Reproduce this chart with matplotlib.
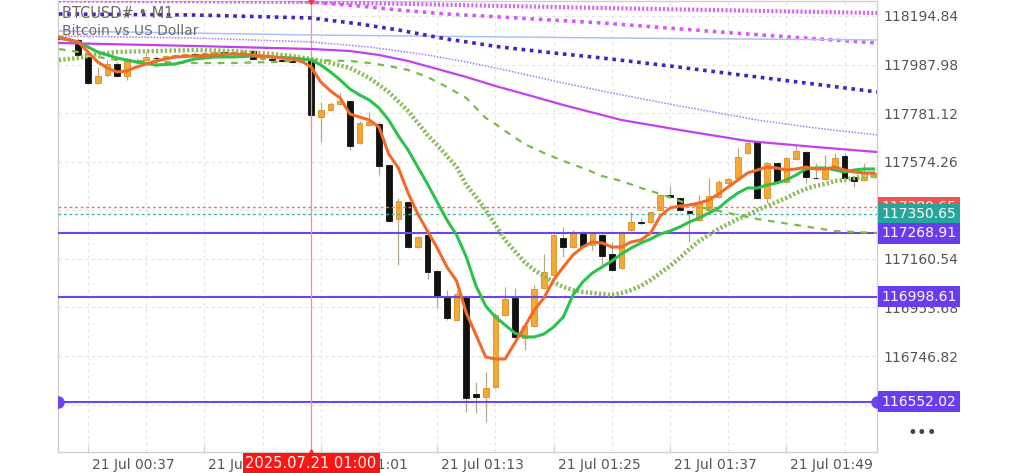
import matplotlib
matplotlib.use("Agg")
import matplotlib.pyplot as plt
import matplotlib.transforms as mtrans

# ---------------- data ----------------
candle_times = list(range(34, 119))  # minutes after 00:00 (21 Jul 2025, M1 candles)
opens = [118105.5, 118097.0, 118092.7, 118020.3, 117909.6, 117943.6, 117990.5, 117939.4, 118003.3, 118007.5,
         118018.0, 118016.0, 118020.3, 118028.8, 118033.1, 118028.8, 118037.3, 118041.6, 118033.1, 118043.7,
         118045.8, 118011.8, 118011.8, 118007.5, 118003.3, 117999.0, 118007.5, 117764.8, 117794.6, 117820.2,
         117832.9, 117654.1, 117730.7, 117735.0, 117560.4, 117330.5, 117402.9, 117211.3, 117262.4, 117109.1,
         116998.4, 116900.4, 116998.4, 116585.3, 116572.6, 116615.2, 116921.7, 116994.1, 116823.8, 116874.9,
         117036.7, 117092.0, 117249.6, 117211.3, 117275.1, 117219.8, 117262.4, 117181.5, 117121.9, 117283.7,
         117317.7, 117317.7, 117368.8, 117430.6, 117419.9, 117364.6, 117326.2, 117368.8, 117424.2, 117483.8,
         117505.1, 117611.5, 117658.4, 117419.9, 117568.9, 117488.0, 117586.0, 117615.8, 117507.0, 117500.8,
         117551.9, 117598.8, 117509.3, 117496.6, 117509.3]
highs = [118109.7, 118101.2, 118101.2, 118024.6, 117977.7, 118007.5, 117999.0, 118016.0, 118016.0, 118041.6,
         118024.6, 118028.8, 118033.1, 118037.3, 118041.6, 118041.6, 118045.8, 118045.8, 118045.8, 118050.0,
         118050.0, 118020.3, 118016.0, 118011.8, 118007.5, 118007.5, 118037.3, 117828.7, 117828.7, 117867.0,
         117837.2, 117747.8, 117786.1, 117743.5, 117564.7, 117419.9, 117407.1, 117258.1, 117287.9, 117113.3,
         117028.2, 117028.2, 117002.7, 116636.4, 116679.0, 116930.2, 117041.0, 117036.7, 116879.2, 117049.5,
         117181.5, 117266.6, 117296.4, 117283.7, 117279.4, 117275.1, 117270.9, 117232.6, 117279.4, 117360.3,
         117334.8, 117364.6, 117437.0, 117471.0, 117424.2, 117368.8, 117432.7, 117505.1, 117496.6, 117505.1,
         117632.8, 117658.4, 117662.6, 117573.2, 117573.2, 117594.5, 117641.3, 117620.0, 117568.9, 117603.0,
         117611.5, 117611.5, 117513.6, 117568.9, 117535.0]
lows = [118092.7, 118084.2, 118020.3, 117905.0, 117905.0, 117935.1, 117935.1, 117922.4, 117990.5, 118003.3,
        117977.7, 118011.8, 118016.0, 118024.6, 118020.3, 118024.6, 118028.8, 118033.1, 118028.8, 118037.3,
        118007.5, 118007.5, 118003.3, 117999.0, 117994.7, 117994.7, 117743.5, 117658.4, 117790.3, 117816.0,
        117624.3, 117649.8, 117726.5, 117517.8, 117317.7, 117134.6, 117207.0, 117207.0, 117075.0, 116951.5,
        116900.4, 116896.2, 116508.7, 116504.4, 116466.1, 116610.9, 116917.5, 116823.8, 116772.7, 116870.6,
        117032.4, 117087.8, 117168.7, 117207.0, 117211.3, 117198.5, 117130.4, 117109.1, 117117.6, 117279.4,
        117304.9, 117313.5, 117364.6, 117419.9, 117364.6, 117232.6, 117322.0, 117364.6, 117419.9, 117479.5,
        117500.8, 117607.3, 117415.6, 117398.6, 117483.8, 117483.8, 117581.7, 117483.8, 117500.8, 117496.6,
        117547.7, 117500.8, 117466.8, 117492.3, 117505.1]
closes = [118096.9, 118093.0, 118028.8, 117909.6, 117939.4, 117990.5, 117939.4, 118007.5, 117999.0, 118020.3,
          118014.0, 118024.6, 118028.8, 118033.1, 118028.8, 118037.3, 118041.6, 118037.3, 118041.6, 118045.8,
          118011.8, 118016.0, 118007.5, 118005.4, 117999.0, 118003.3, 117773.3, 117794.6, 117820.2, 117832.9,
          117641.3, 117739.3, 117743.5, 117556.2, 117322.0, 117407.1, 117211.3, 117253.9, 117104.8, 116998.4,
          116909.0, 117011.1, 116568.3, 116572.6, 116610.9, 116921.7, 116989.9, 116828.1, 116874.9, 117032.4,
          117104.8, 117262.4, 117211.3, 117270.9, 117215.5, 117270.9, 117173.0, 117113.3, 117275.1, 117317.7,
          117313.5, 117360.3, 117432.7, 117426.0, 117368.8, 117356.0, 117398.6, 117428.4, 117488.0, 117500.8,
          117594.5, 117654.1, 117419.9, 117568.9, 117488.0, 117590.2, 117620.0, 117509.3, 117503.0, 117551.9,
          117590.2, 117505.1, 117492.3, 117509.3, 117522.0]

# indicator lines (time in minutes after 00:00, price)
fast_t = [34, 36, 37, 38, 39, 40, 41, 42, 43, 44, 46, 48, 50, 52, 54, 56, 58, 59, 60, 61, 62, 63, 64, 65, 66, 67,
          68, 69, 70, 71, 72, 73, 74, 75, 76, 77, 78, 79, 80, 81, 82, 83, 84, 85, 86, 87, 88, 89, 90, 91, 92, 93,
          94, 95, 96, 97, 98, 99, 100, 101, 102, 103, 104, 105, 106, 107, 108, 109, 110, 111, 112, 113, 114, 115,
          116, 117, 118]
fast_v = [118105.5, 118084.2, 118041.6, 117999.0, 117973.5, 117956.4, 117960.7, 117977.7, 117990.5, 118003.3,
          118020.3, 118024.6, 118028.8, 118033.1, 118028.8, 118020.3, 118011.8, 118003.3, 117977.7, 117913.8,
          117875.5, 117845.7, 117777.6, 117764.8, 117752.0, 117722.2, 117607.3, 117547.7, 117441.2, 117351.8,
          117279.4, 117207.0, 117126.1, 117066.5, 116930.2, 116836.6, 116742.9, 116734.4, 116734.4, 116802.5,
          116870.6, 116943.0, 116994.1, 117070.8, 117126.1, 117177.2, 117211.3, 117232.6, 117228.3, 117211.3,
          117211.3, 117232.6, 117241.1, 117270.9, 117343.3, 117377.3, 117385.9, 117390.1, 117398.6, 117411.4,
          117437.0, 117466.8, 117496.6, 117526.4, 117539.1, 117551.9, 117547.7, 117539.1, 117543.4, 117551.9,
          117543.4, 117543.4, 117551.9, 117539.1, 117530.6, 117526.4, 117526.4]

mid_t = [34, 36, 37, 38, 40, 42, 44, 46, 48, 50, 52, 54, 56, 58, 60, 61, 62, 63, 64, 65, 66, 67, 68, 69, 70, 71,
         72, 73, 74, 75, 76, 77, 78, 79, 80, 81, 82, 83, 84, 85, 86, 87, 88, 89, 90, 91, 92, 93, 94, 95, 96, 97,
         98, 99, 100, 101, 102, 103, 104, 105, 106, 107, 108, 109, 110, 111, 112, 113, 114, 115, 116, 117, 118]
mid_v = [118101.2, 118084.2, 118062.9, 118041.6, 118016.0, 117999.0, 117986.2, 117990.5, 118011.8, 118020.3,
         118020.3, 118024.6, 118020.3, 118016.0, 118007.5, 117986.2, 117956.4, 117922.4, 117884.0, 117858.5,
         117837.2, 117803.1, 117752.0, 117683.9, 117624.3, 117551.9, 117479.5, 117402.9, 117326.2, 117262.4,
         117168.7, 117045.2, 116960.0, 116913.2, 116879.2, 116845.1, 116828.1, 116828.1, 116840.8, 116870.6,
         116913.2, 117006.9, 117062.2, 117100.6, 117126.1, 117151.7, 117181.5, 117207.0, 117228.3, 117245.3,
         117266.6, 117279.4, 117296.4, 117317.7, 117334.8, 117356.0, 117377.3, 117411.4, 117441.2, 117462.5,
         117462.5, 117475.3, 117483.8, 117496.6, 117517.8, 117543.4, 117547.7, 117547.7, 117539.1, 117530.6,
         117539.1, 117543.4, 117543.4]

slow_t = [34, 36, 38, 40, 44, 48, 52, 56, 58, 60, 62, 64, 66, 68, 70, 71, 72, 73, 74, 75, 76, 77, 78, 79, 80, 81,
          82, 83, 84, 85, 86, 87, 88, 89, 90, 91, 92, 93, 94, 95, 96, 97, 98, 99, 100, 101, 102, 103, 104, 105,
          106, 107, 108, 109, 110, 111, 112, 113, 114, 115, 116, 117, 118.34]
slow_v = [118007.5, 118016.0, 118033.1, 118041.6, 118045.8, 118050.1, 118045.8, 118033.1, 118024.6, 118011.8,
          117994.7, 117973.5, 117930.9, 117871.3, 117790.4, 117739.3, 117688.2, 117645.6, 117598.8, 117551.9,
          117475.3, 117424.2, 117368.8, 117304.9, 117241.1, 117194.2, 117147.4, 117113.3, 117087.8, 117062.2,
          117041.0, 117028.2, 117019.7, 117015.4, 117011.1, 117006.9, 117015.4, 117028.2, 117045.2, 117070.8,
          117100.6, 117130.4, 117164.4, 117202.8, 117236.8, 117262.4, 117287.9, 117309.2, 117330.5, 117347.5,
          117368.8, 117385.9, 117402.9, 117419.9, 117441.2, 117458.2, 117471.0, 117479.5, 117492.3, 117496.6,
          117505.1, 117513.6, 117517.8]

dash_t = [34, 36, 38, 40, 44, 48, 52, 56, 60, 64, 66, 68, 70, 72, 74, 76, 78, 79, 80, 82, 84, 86, 88, 90, 92, 94,
          96, 98, 100, 102, 104, 106, 108, 110, 112, 114, 116, 118.34]
dash_v = [118054.4, 118041.6, 118020.3, 118007.5, 117999.0, 117994.7, 117994.7, 117999.0, 118007.5, 118003.3,
          117994.7, 117982.0, 117964.9, 117935.1, 117892.6, 117845.7, 117760.6, 117735.1, 117705.2, 117649.8,
          117611.5, 117577.5, 117547.7, 117513.6, 117492.3, 117462.5, 117437.0, 117407.1, 117381.6, 117364.6,
          117347.5, 117330.5, 117317.7, 117304.9, 117292.2, 117279.4, 117275.1, 117270.9]

magenta_t = [34, 48, 60, 64, 67, 70, 73, 76, 79, 82, 86, 92, 98, 105, 112, 118.34]
magenta_v = [118079.9, 118067.1, 118054.4, 118045.8, 118028.8, 118003.3, 117969.2, 117935.1, 117896.8, 117862.7,
             117815.9, 117752.0, 117709.5, 117662.6, 117637.1, 117615.8]

violet_t = [34, 48, 60, 66, 72, 76, 80, 86, 91, 98, 106, 112, 118.34]
violet_v = [118109.7, 118101.2, 118084.2, 118062.9, 118028.8, 117999.0, 117964.9, 117909.6, 117867.0, 117811.7,
            117752.0, 117718.0, 117688.2]

blue_t = [34, 60, 91, 118.34]
blue_v = [118131.0, 118114.0, 118101.2, 118092.7]

indigo_t = [34, 48, 60, 65, 69, 74, 79.5, 85, 90, 97, 103.5, 111, 118.34]
indigo_v = [118203.4, 118199.1, 118186.4, 118160.8, 118135.3, 118096.9, 118062.9, 118037.3, 118016.0, 117982.0,
            117947.9, 117909.6, 117871.3]

pink_t = [55, 60, 65, 69, 74, 79.5, 90, 103.5, 118.34]
pink_v = [118275.8, 118254.5, 118237.5, 118220.4, 118203.4, 118190.6, 118165.1, 118122.5, 118079.9]

top_t = [34, 60, 90, 118.34]
top_v = [118260.9, 118254.5, 118228.9, 118207.6]

level_purple = [117268.91, 116998.61, 116552.02]
level_red = 117380.65
level_teal = 117350.65

y_ticks = [116539.96, 116746.82, 116953.68, 117160.54, 117367.40, 117574.26, 117781.12, 117987.98, 118194.84]
y_labels = ["116539.96", "116746.82", "116953.68", "117160.54", "117367.40", "117574.26", "117781.12",
            "117987.98", "118194.84"]
x_ticks = [37, 49, 61, 73, 85, 97, 109]
x_labels = ["21 Jul 00:37", "21 Jul 00:49", "21 Jul 01:01", "21 Jul 01:13", "21 Jul 01:25", "21 Jul 01:37",
            "21 Jul 01:49"]
cursor_time = 60
cursor_label = "2025.07.21 01:00"

# ---------------- figure ----------------
W, H = 1024, 473
fig = plt.figure(figsize=(W / 100, H / 100), dpi=100)
fig.patch.set_facecolor("white")
ax = fig.add_axes([58 / W, 21 / H, (877 - 58) / W, 451 / H])
ax.set_xlim(33.907, 118.34)
ax.set_ylim(116338.4, 118258.7)

for s in ax.spines.values():
    s.set_color("#cfcfcf")
    s.set_linewidth(1)

# grid
for yv in y_ticks:
    ax.axhline(yv, color="#e4e4e4", lw=0.8, ls=(0, (3, 3)), zorder=0)
for xv in range(37, 119, 6):
    ax.axvline(xv, color="#e4e4e4", lw=0.8, ls=(0, (3, 3)), zorder=0)

# candles
bw = 0.58
for t, o, h, l, c in zip(candle_times, opens, highs, lows, closes):
    bull = c >= o
    ax.vlines(t, l, h, color="#b3a98f", lw=0.9, zorder=2)
    lo, hi = min(o, c), max(o, c)
    if hi - lo < 4:
        mid = (hi + lo) / 2
        lo, hi = mid - 2.5, mid + 2.5
    if bull:
        ax.bar(t, hi - lo, bottom=lo, width=bw, color="#f5a833", edgecolor="#d98f22", lw=0.6, zorder=3)
    else:
        ax.bar(t, hi - lo, bottom=lo, width=bw, color="#111111", edgecolor="#111111", lw=0.6, zorder=3)

# level lines
ax.axhline(level_red, color="#f07070", lw=1.0, ls=(0, (2, 2)), zorder=4)
ax.axhline(level_teal, color="#3db5ab", lw=1.0, ls=(0, (2, 2)), zorder=4)
for lv in level_purple:
    ax.axhline(lv, color="#6d45f0", lw=1.5, zorder=4)
ax.plot([33.907, 118.34], [level_purple[2]] * 2, "o", color="#6d45f0", ms=8, zorder=5, clip_on=True)

# cursor line
ax.axvline(cursor_time, color="#ff8a8a", lw=0.9, zorder=4)
ax.plot([cursor_time], [118258.7], marker="v", color="#ff3030", ms=5, clip_on=False, zorder=6)
ax.plot([cursor_time], [116338.4], marker="^", color="#ff3030", ms=5, clip_on=False, zorder=6)

# indicator lines
ax.plot(top_t, top_v, color="#d966f2", lw=3, ls=(0, (0.5, 0.5)), zorder=5)
ax.plot(pink_t, pink_v, color="#d45cf0", lw=2.6, ls=(0, (1, 1.3)), zorder=5)
ax.plot(blue_t, blue_v, color="#a9c2f7", lw=1.1, zorder=5)
ax.plot(indigo_t, indigo_v, color="#4b22b8", lw=2.6, ls=(0, (1, 1.3)), zorder=5)
ax.plot(violet_t, violet_v, color="#a77af5", lw=1.1, ls=(0, (1, 1)), zorder=5)
ax.plot(magenta_t, magenta_v, color="#c33ff0", lw=1.6, zorder=5)
ax.plot(dash_t, dash_v, color="#7dba48", lw=1.6, ls=(0, (3, 3)), zorder=5)
ax.plot(slow_t, slow_v, color="#8cbc55", lw=3.2, ls=(0, (0.5, 0.5)), zorder=5)
ax.plot(mid_t, mid_v, color="#2fc24a", lw=2.2, zorder=6)
ax.plot(fast_t, fast_v, color="#f26a2a", lw=2.2, zorder=7)

# axes ticks
ax.yaxis.tick_right()
ax.set_yticks(y_ticks)
ax.set_yticklabels(y_labels)
ax.tick_params(axis="y", length=0, pad=4.5, labelsize=10, labelcolor="#555555")
ax.set_xticks(x_ticks)
ax.set_xticklabels(x_labels)
ax.tick_params(axis="x", direction="in", length=4, color="#cfcfcf", pad=4, labelsize=10, labelcolor="#555555")
off = mtrans.ScaledTranslation(4 / 100, 0, fig.dpi_scale_trans)
for lbl in ax.get_xticklabels():
    lbl.set_horizontalalignment("left")
    lbl.set_transform(lbl.get_transform() + off)

# price label boxes
tr = mtrans.blended_transform_factory(ax.transAxes, ax.transData) + mtrans.ScaledTranslation(4.5 / 100, 0, fig.dpi_scale_trans)
def price_box(val, col, z):
    ax.text(1.0, val, f"{val:.2f}", transform=tr, ha="left", va="center", fontsize=10, color="white",
            bbox=dict(boxstyle="square,pad=0.25", fc=col, ec="none"), clip_on=False, zorder=z)

price_box(level_red, "#ef5350", 10)
price_box(level_teal, "#26a69a", 11)
for lv in level_purple:
    price_box(lv, "#6a3cf0", 12)

# cursor time box
trx = mtrans.blended_transform_factory(ax.transData, ax.transAxes) + mtrans.ScaledTranslation(0, -11 / 100, fig.dpi_scale_trans)
ax.text(cursor_time, 0, cursor_label, transform=trx, ha="center", va="center", fontsize=10.5, color="white",
        bbox=dict(boxstyle="square,pad=0.2", fc="#ff1414", ec="none"), clip_on=False, zorder=12)

# header texts
fig.text(62 / W, 1 - 13 / H, "BTCUSD# • M1", fontsize=10.5, color="#6a6a6a", va="center", ha="left", zorder=1)
fig.text(62 / W, 1 - 31 / H, "Bitcoin vs US Dollar", fontsize=10, color="#6a6a6a", va="center", ha="left", zorder=1)
fig.text(922 / W, 1 - 433 / H, "•••", fontsize=12, color="#444444", va="center", ha="center")

fig.savefig("out.png", dpi=100, facecolor="white")
